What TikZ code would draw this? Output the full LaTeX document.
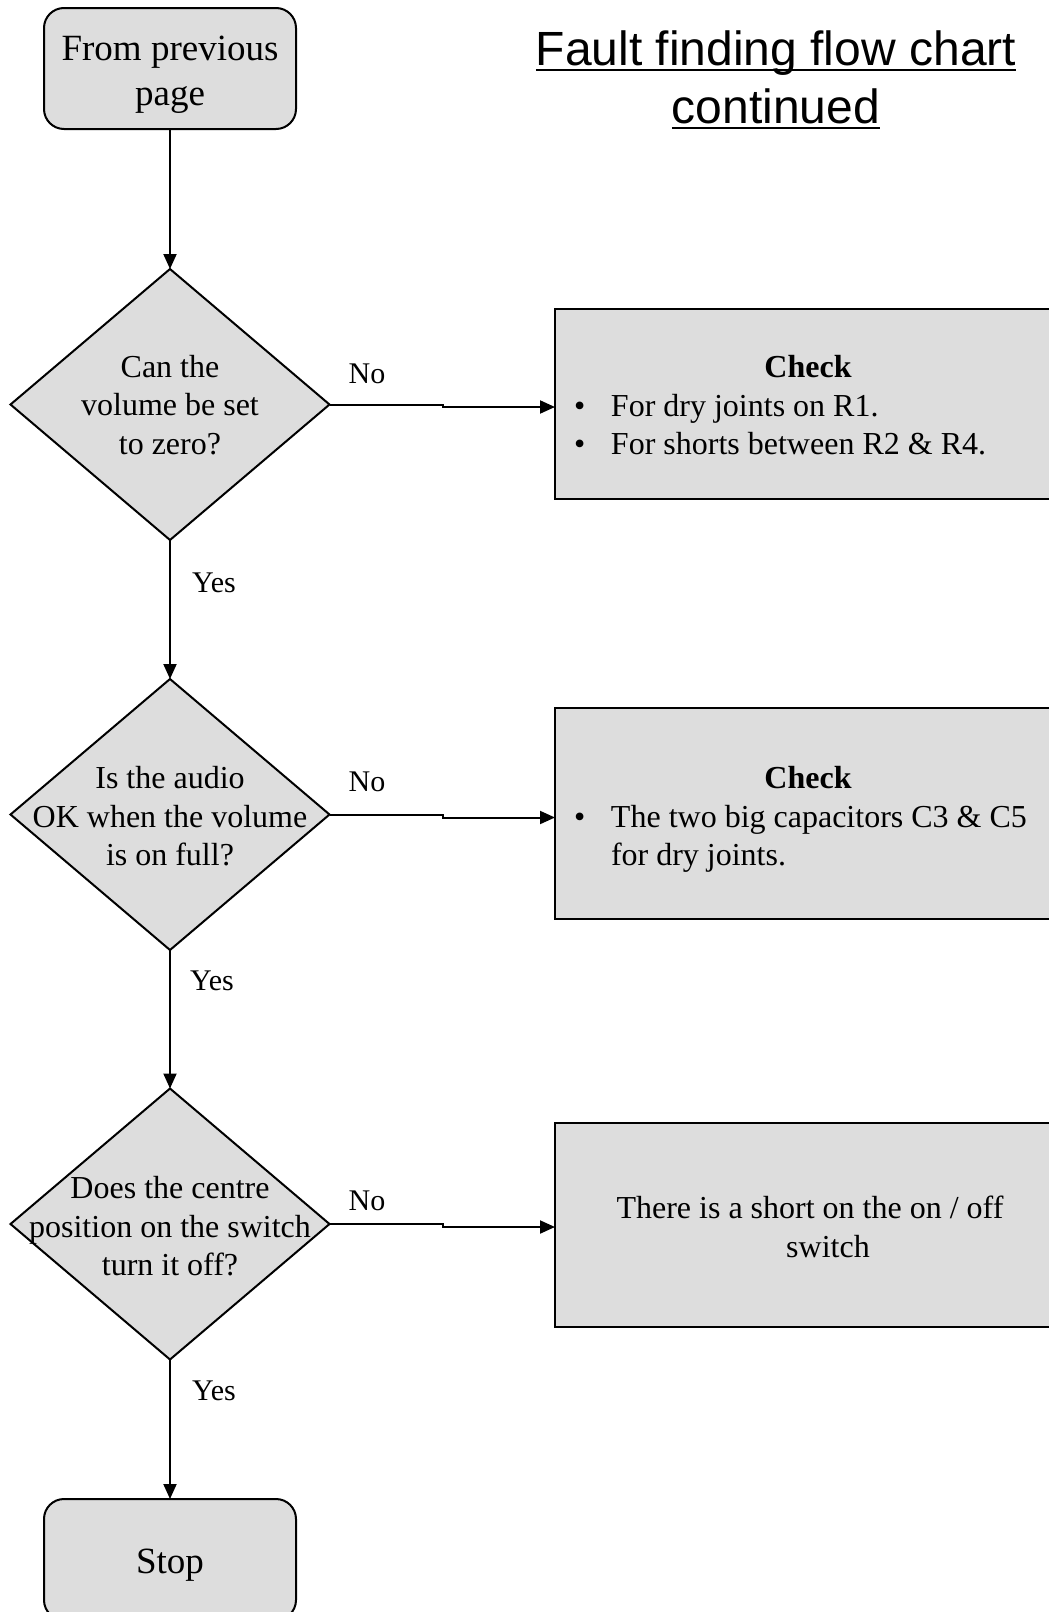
\documentclass[tikz,border=0pt]{standalone}
\usepackage{fontspec}
\setmainfont{Liberation Serif}
\newfontfamily\titlefont{Liberation Sans}
\usetikzlibrary{arrows.meta,shapes.geometric}
\definecolor{boxfill}{RGB}{221,221,221}
\begin{document}
\begin{tikzpicture}[x=1pt,y=-1pt,
  every node/.style={inner sep=0pt, outer sep=0pt},
  term/.style={draw, line width=2pt, fill=boxfill, rounded corners=20pt, minimum width=252pt, minimum height=121pt},
  termtext/.style={font=\fontsize{37}{45}\selectfont, align=center},
  dec/.style={draw, line width=2pt, fill=boxfill, diamond, minimum width=319pt, minimum height=271pt},
  act/.style={draw, line width=2pt, fill=boxfill, minimum width=545pt, anchor=west},
  body/.style={font=\fontsize{32}{38.5}\selectfont, align=center},
  listtext/.style={font=\fontsize{32}{38.5}\selectfont, align=left, anchor=west},
  lbl/.style={font=\fontsize{30}{35}\selectfont},
  ttl/.style={font=\titlefont\fontsize{48}{57}\selectfont, anchor=base},
  arr/.style={line width=2pt, -{Triangle[length=15pt,width=13pt]}},
  uline/.style={line width=2.5pt},
]
\useasboundingbox (0,0) rectangle (1049,1612);
\clip (0,0) rectangle (1049,1612);

% title
\node[ttl] (t1) at (776,65) {Fault finding flow chart};
\node[ttl] (t2) at (776,123) {continued};
\draw[uline] ([yshift=-5pt]t1.base west) -- ([yshift=-5pt]t1.base east);
\draw[uline] ([yshift=-5pt]t2.base west) -- ([yshift=-5pt]t2.base east);

% left column
\node[term] (start) at (170,68.5) {};
\node[termtext] (startt) at (170,74.5) {From previous\\page};
\node[dec] (d1) at (170,404.5) {};
\node[body] (d1t) at (170,405) {Can the\\volume be set\\to zero?};
\node[dec] (d2) at (170,814.5) {};
\node[body] (d2t) at (170,816.5) {Is the audio\\OK when the volume\\is on full?};
\node[dec] (d3) at (170,1224) {};
\node[body] (d3t) at (170,1226.5) {Does the centre\\position on the switch\\turn it off?};
\node[term] (stop) at (170,1559.5) {};
\node[termtext] (stopt) at (170,1565.5) {Stop};

% right column
\node[act, minimum height=190pt] (b1) at (555,404) {};
\node[body, font=\bfseries\fontsize{32}{38.5}\selectfont] (c1) at (808,367) {Check};
\node[listtext] (l1) at (574,424.5) {\makebox[37pt][l]{\textbullet}For dry joints on R1.\\\makebox[37pt][l]{\textbullet}For shorts between R2 \& R4.};

\node[act, minimum height=211pt] (b2) at (555,813.5) {};
\node[body, font=\bfseries\fontsize{32}{38.5}\selectfont] (c2) at (808,778) {Check};
\node[listtext] (l2) at (574,839) {\makebox[37pt][l]{\textbullet}The two big capacitors C3 \& C5\\\hspace*{37pt}for dry joints.};

\node[act, minimum height=204pt] (b3) at (555,1225) {};
\node[body] (b3t) at (810,1227) {There is a short on the on / off\\\hspace*{36pt}switch};

% labels
\node[lbl] (n1) at (367,374) {No};
\node[lbl] (n2) at (367,782) {No};
\node[lbl] (n3) at (367,1201) {No};
\node[lbl] (y1) at (214,583) {Yes};
\node[lbl] (y2) at (212,981) {Yes};
\node[lbl] (y3) at (214,1391) {Yes};

% connectors
\draw[arr] (start.south) -- (d1.north);
\draw[arr] (d1.south) -- (d2.north);
\draw[arr] (d2.south) -- (d3.north);
\draw[arr] (d3.south) -- (stop.north);
\draw[arr] (d1.east) -- ++(113,0) |- ([yshift=-3pt]b1.west);
\draw[arr] (d2.east) -- ++(113,0) |- ([yshift=-4pt]b2.west);
\draw[arr] (d3.east) -- ++(113,0) |- ([yshift=-2pt]b3.west);
\end{tikzpicture}
\end{document}
